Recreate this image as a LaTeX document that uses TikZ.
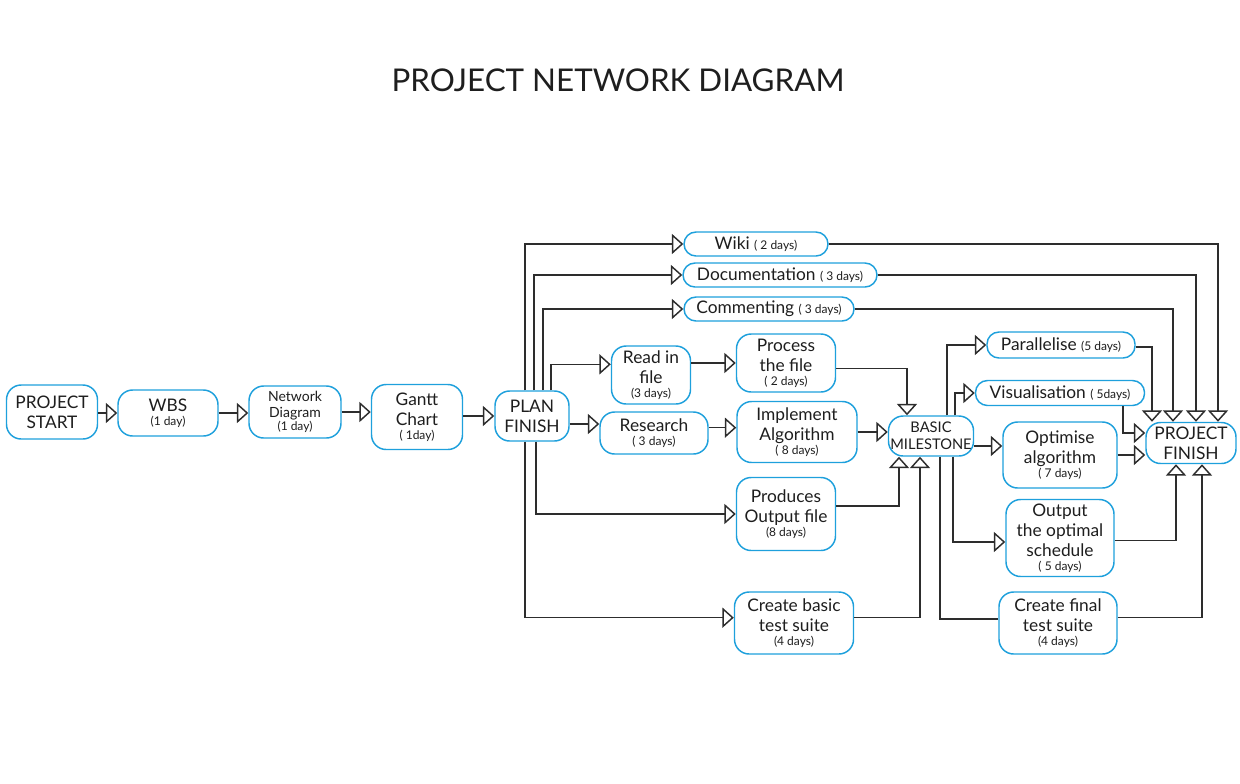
\documentclass[tikz,border=0pt]{standalone}
\usepackage{fontspec}
\setmainfont{Lato}
\usetikzlibrary{arrows.meta}
\definecolor{boxblue}{RGB}{30,160,220}
\definecolor{linegray}{RGB}{45,45,45}
\definecolor{textgray}{RGB}{30,30,30}
\newcommand{\days}[1]{{\fontsize{9}{10}\selectfont #1}}

\begin{document}
\begin{tikzpicture}[x=0.75pt,y=-0.75pt,->,>={Triangle[open,length=8.5pt,width=15pt]},
                    line width=1.1pt,
                    task/.style={draw=boxblue,fill=white,rounded corners=11pt,align=center,
                      inner sep=0pt,text=textgray,font=\fontsize{13}{15}\selectfont},
                    thin/.style={rounded corners=9pt},
                    sz/.style 2 args={minimum width=#1*0.75pt,minimum height=#2*0.75pt},
                    link/.style={draw=linegray}]

  \useasboundingbox (0,0) rectangle (1240,783);

  \node[text=textgray,font=\fontsize{23.5}{28}\selectfont] (title) at (618,80) {PROJECT NETWORK DIAGRAM};

  % planning chain
  \node[task,sz={91}{54}]  (start)   at (52,412)  {PROJECT\\START};
  \node[task,sz={100}{46}] (wbs)     at (168,413) {WBS\\[-4.5pt]\days{(1 day)}};
  \node[task,sz={92}{52},font=\fontsize{10.5}{12}\selectfont]
                           (netdiag) at (295,412) {Network\\Diagram\\[-2pt]\days{(1 day)}};
  \node[task,sz={91}{65}]  (gantt)   at (417,417) {Gantt\\Chart\\[-4.5pt]\days{( 1day)}};
  \node[task,sz={74}{50}]  (plan)    at (532,416) {PLAN\\FINISH};

  % first stage
  \node[task,thin,sz={144}{24}] (wiki)    at (756,244) {Wiki \days{( 2 days)}};
  \node[task,thin,sz={194}{24}] (docs)    at (780,275) {Documentation \days{( 3 days)}};
  \node[task,thin,sz={170}{24}] (comment) at (769,309) {Commenting \days{( 3 days)}};
  \node[task,sz={79}{58}]  (readin)    at (651,375) {Read in\\file\\[-4.5pt]\days{(3 days)}};
  \node[task,sz={108}{42}] (research)  at (654,433) {Research\\[-4.5pt]\days{( 3 days)}};
  \node[task,sz={99}{58}]  (process)   at (786,363) {Process\\the file\\[-4.5pt]\days{( 2 days)}};
  \node[task,sz={120}{61}] (implement) at (797,432) {Implement\\Algorithm\\[-4.5pt]\days{( 8 days)}};
  \node[task,sz={99}{73}]  (outfile)   at (786,514) {Produces\\Output file\\[-4.5pt]\days{(8 days)}};
  \node[task,sz={119}{62}] (basictest) at (794,623) {Create basic\\test suite\\[-4.5pt]\days{(4 days)}};

  \node[task,sz={85}{40},font=\fontsize{11}{12.5}\selectfont]
                           (milestone) at (931,436) {BASIC\\MILESTONE};

  % second stage
  \node[task,thin,sz={148}{26}] (parallel) at (1061,345) {Parallelise \days{(5 days)}};
  \node[task,thin,sz={169}{25}] (visual)   at (1060,393) {Visualisation \days{( 5days)}};
  \node[task,sz={114}{66}] (optimise)  at (1060,455) {Optimise\\algorithm\\[-4.5pt]\days{( 7 days)}};
  \node[task,sz={108}{77}] (schedule)  at (1060,538) {Output\\the optimal\\schedule\\[-4.5pt]\days{( 5 days)}};
  \node[task,sz={118}{62}] (finaltest) at (1058,623) {Create final\\test suite\\[-4.5pt]\days{(4 days)}};
  \node[task,sz={90}{41}]  (finish)    at (1191,443) {PROJECT\\FINISH};

  % connectors
  \draw[link] (start.east |- wbs) -- (wbs);
  \draw[link] (wbs) -- (wbs -| netdiag.west);
  \draw[link] (netdiag) -- (netdiag -| gantt.west);
  \draw[link] (gantt.east |- plan) -- (plan);

  \draw[link] (plan.north -| 525,0) |- (wiki);
  \draw[link] (plan.north -| 534,0) |- (docs);
  \draw[link] (plan.north -| 543,0) |- (comment);
  \draw[link] (plan.north -| 551,0) |- ([yshift=8pt]readin.west);
  \draw[link] ([yshift=-6pt]plan.east) -- ([yshift=-6pt]plan.east -| research.west);
  \draw[link] (plan.south -| 536,0) |- (outfile);
  \draw[link] (plan.south -| 525,0) |- ([yshift=4pt]basictest.west);

  \draw[link] (readin.east |- process) -- (process);
  \draw[link] ([yshift=4pt]research.east) -- ([yshift=4pt]research.east -| implement.west);
  \draw[link] ([yshift=-4pt]process.east) -| (milestone.north -| 907,0);
  \draw[link] (implement) -- (implement -| milestone.west);
  \draw[link] ([yshift=6pt]outfile.east) -| (milestone.south -| 899,0);
  \draw[link] ([yshift=4pt]basictest.east) -| (milestone.south -| 920,0);

  \draw[link] (milestone.north -| 947,0) |- (parallel);
  \draw[link] (milestone.north -| 955,0) |- (visual);
  \draw[link] ([yshift=-7.5pt]milestone.east) -- ([yshift=-7.5pt]milestone.east -| optimise.west);
  \draw[link] (milestone.south -| 953,0) |- ([yshift=-3pt]schedule.west);
  \draw[link,-] (milestone.south -| 940,0) |- ([yshift=3pt]finaltest.west);

  \draw[link] (wiki) -| (finish.north -| 1218,0);
  \draw[link] (docs) -| (finish.north -| 1196,0);
  \draw[link] (comment) -| (finish.north -| 1173,0);
  \draw[link] ([yshift=-1.5pt]parallel.east) -| (finish.north -| 1152,0);
  \draw[link] (visual.south -| 1123,0) |- ([yshift=7.5pt]finish.west);
  \draw[link] (optimise) -- (optimise -| finish.west);
  \draw[link] ([yshift=-2pt]schedule.east) -| (finish.south -| 1176,0);
  \draw[link] ([yshift=4pt]finaltest.east) -| (finish.south -| 1202,0);
\end{tikzpicture}
\end{document}
